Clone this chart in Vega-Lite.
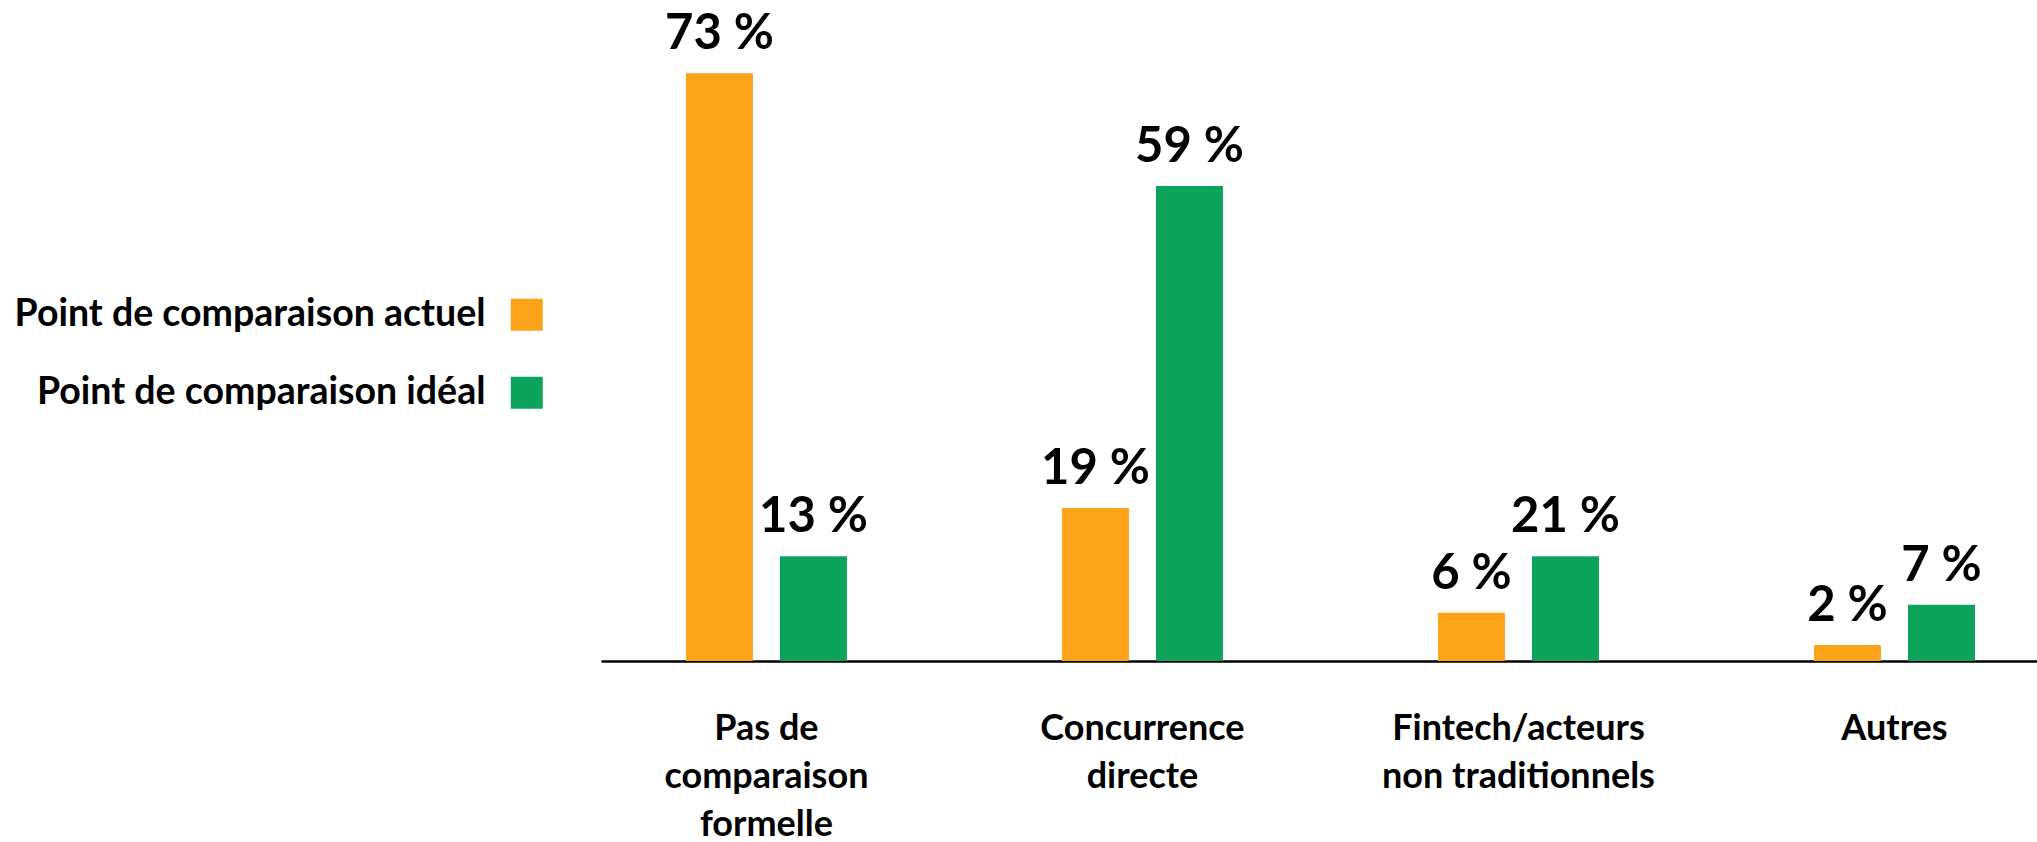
{
  "$schema": "https://vega.github.io/schema/vega-lite/v6.json",
  "autosize": {"type": "none"},
  "width": 1436,
  "height": 644,
  "padding": {"left": 601, "top": 17, "right": 0, "bottom": 181},
  "background": "white",
  "config": {"view": {"stroke": null}, "font": "Lato"},
  "data": {
    "values": [
      {"cat": "Pas de|comparaison|formelle", "serie": "Point de comparaison actuel", "value": 73, "label": "73 %"},
      {"cat": "Pas de|comparaison|formelle", "serie": "Point de comparaison idéal", "value": 13, "label": "13 %"},
      {"cat": "Concurrence|directe", "serie": "Point de comparaison actuel", "value": 19, "label": "19 %"},
      {"cat": "Concurrence|directe", "serie": "Point de comparaison idéal", "value": 59, "label": "59 %"},
      {"cat": "Fintech/acteurs|non traditionnels", "serie": "Point de comparaison actuel", "value": 6, "label": "6 %"},
      {"cat": "Fintech/acteurs|non traditionnels", "serie": "Point de comparaison idéal", "value": 13, "label": "21 %"},
      {"cat": "Autres", "serie": "Point de comparaison actuel", "value": 2, "label": "2 %"},
      {"cat": "Autres", "serie": "Point de comparaison idéal", "value": 7, "label": "7 %"}
    ]
  },
  "encoding": {
    "x": {
      "field": "cat", "type": "nominal", "sort": null,
      "scale": {"paddingInner": 0.5718, "paddingOuter": 0.1954, "align": 0.578, "round": false},
      "axis": {
        "title": null, "labelAngle": 0, "ticks": false, "grid": false,
        "domainColor": "#000000", "domainWidth": 2.5,
        "labelExpr": "split(datum.label, '|')",
        "labelFont": "Lato", "labelFontWeight": "bold", "labelFontSize": 36,
        "labelColor": "#000000", "labelLineHeight": 48, "labelPadding": 50,
        "labelBaseline": "top", "labelLimit": 400
      }
    },
    "xOffset": {
      "field": "serie", "type": "nominal",
      "scale": {"paddingInner": 0.2872, "paddingOuter": 0, "round": false}
    },
    "y": {
      "field": "value", "type": "quantitative",
      "scale": {"domain": [0, 80], "nice": false},
      "axis": null
    }
  },
  "layer": [
    {
      "mark": {"type": "bar"},
      "encoding": {
        "color": {
          "field": "serie", "type": "nominal",
          "scale": {"domain": ["Point de comparaison actuel", "Point de comparaison idéal"], "range": ["#FDA31A", "#0CA45C"]},
          "legend": {
            "title": null, "orient": "none", "legendX": -93, "legendY": 279,
            "symbolType": "square", "symbolSize": 1024, "symbolStrokeWidth": 0, "symbolOpacity": 1,
            "labelAlign": "right", "labelOffset": -60, "labelLimit": 700,
            "labelFont": "Lato", "labelFontWeight": "bold", "labelFontSize": 37.5, "labelColor": "#000000",
            "rowPadding": 39, "padding": 0
          }
        }
      }
    },
    {
      "mark": {"type": "text", "baseline": "alphabetic", "dy": -24, "font": "Lato", "fontWeight": "bold", "fontSize": 49, "color": "#000000"},
      "encoding": {"text": {"field": "label"}}
    }
  ]
}
